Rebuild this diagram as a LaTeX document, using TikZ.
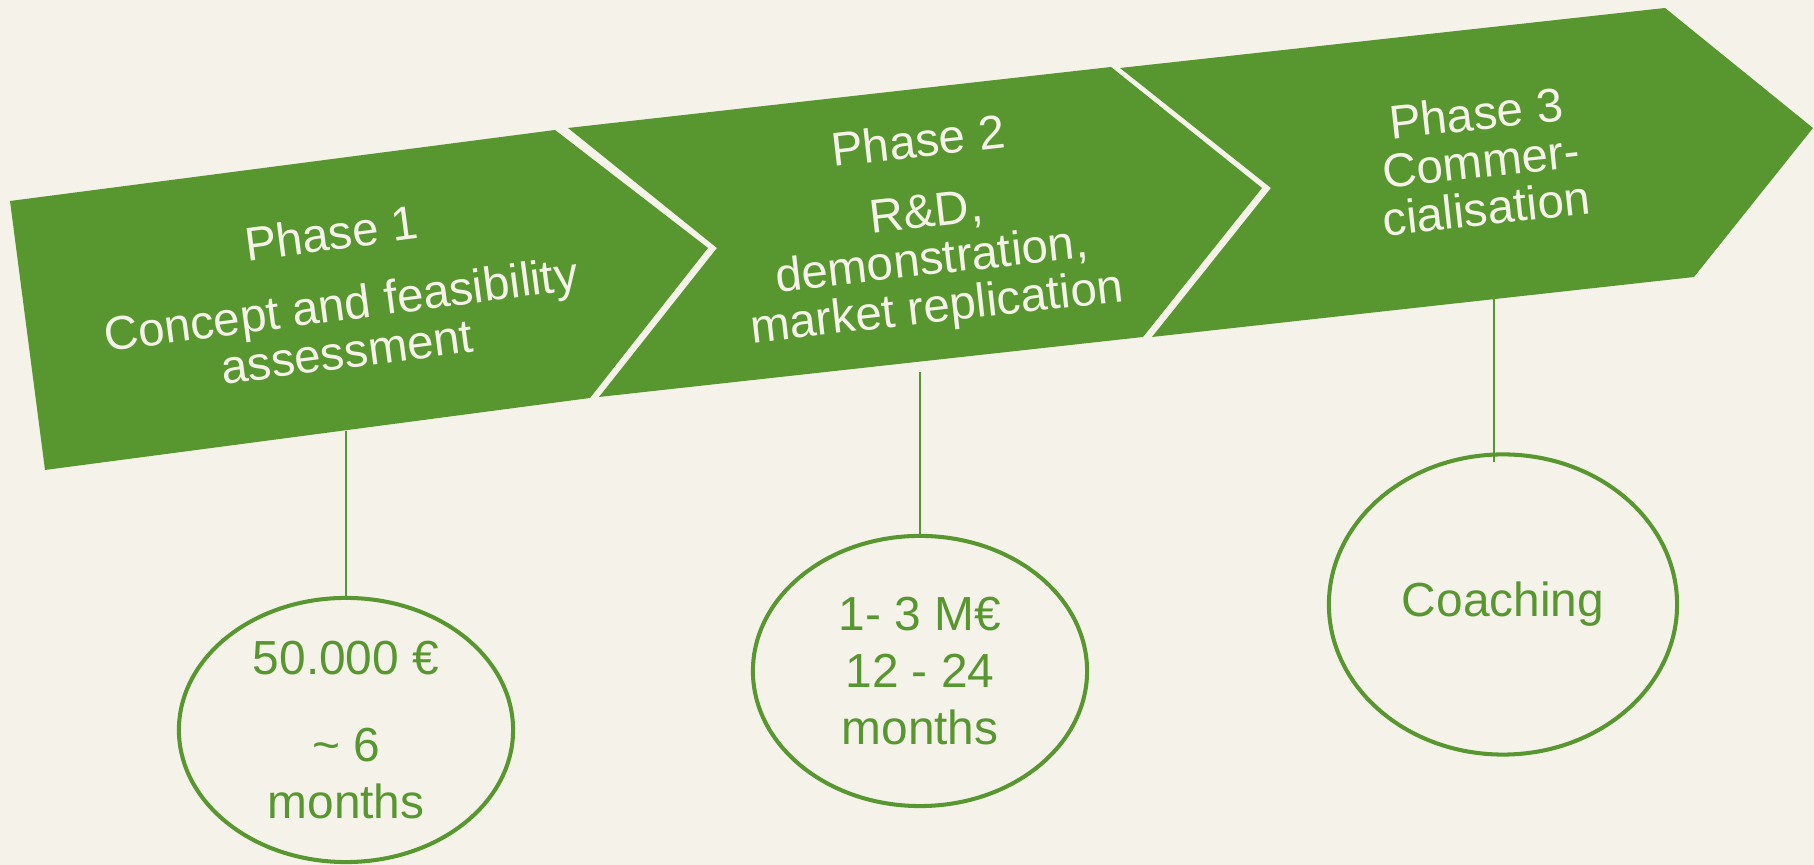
\documentclass[tikz,border=0pt]{standalone}
\usepackage{fontspec}
\setmainfont{Liberation Sans}
\usetikzlibrary{shapes.geometric}

\begin{document}
\begin{tikzpicture}[x=0.01cm, y=-0.01cm,
  phasetext/.style={font=\fontsize{13.5}{13.6}\selectfont, text=cream, align=center, inner sep=0pt, anchor=north},
  bubble/.style={ellipse, draw=leaf, line width=1.15pt, text=leaf, align=center, inner sep=0pt, outer sep=0pt, font=\fontsize{13.6}{16.2}\selectfont},
  stem/.style={draw=leaf, line width=0.55pt}]
  % Define colors
  \definecolor{leaf}{RGB}{88,150,47}
  \definecolor{cream}{RGB}{245,243,233}

  % Background
  \fill[cream] (0,0) rectangle (1814,865);
  \useasboundingbox (0,0) rectangle (1814,865);

  % Chevrons
  \fill[leaf] (10,201) -- (555,130) -- (708,248) -- (590,398) -- (45,470) -- cycle;
  \fill[leaf] (568,128) -- (1111,67) -- (1262,188) -- (1143,337) -- (599,397) -- (717,248) -- cycle;
  \fill[leaf] (1120,68) -- (1665,8) -- (1813,128) -- (1694,277) -- (1152,337) -- (1271,188) -- cycle;

  % Phase labels
  \node[phasetext, rotate=7.5] (ph1) at (329,215) {Phase 1\\[6.7pt]Concept and feasibility\\assessment};
  \node[phasetext, rotate=6.4] (ph2) at (916,122) {Phase 2\\[6.5pt]R\&D,\\demonstration,\\market replication};
  \node[phasetext, rotate=6.2] (ph3) at (1474,95) {Phase 3\\Commer-\\cialisation};

  % Budget and duration
  \node[bubble, minimum width=3.34cm, minimum height=2.64cm] (e1) at (346,730) {50.000 €\\[8.5pt]\textasciitilde{} 6\\months};
  \node[bubble, minimum width=3.34cm, minimum height=2.70cm] (e2) at (920,671) {1- 3 M€\\12 - 24\\months};
  \node[bubble, minimum width=3.48cm, minimum height=3.00cm] (e3) at (1503,604.5) {Coaching};

  % Stems
  \coordinate (p1foot) at (346,431);
  \coordinate (p2foot) at (920,372);
  \coordinate (p3foot) at (1494,299);
  \coordinate (p3end) at (1494,462);
  \draw[stem] (p1foot) -- (e1.north);
  \draw[stem] (p2foot) -- (e2.north);
  \draw[stem] (p3foot) -- (p3end);
\end{tikzpicture}
\end{document}
